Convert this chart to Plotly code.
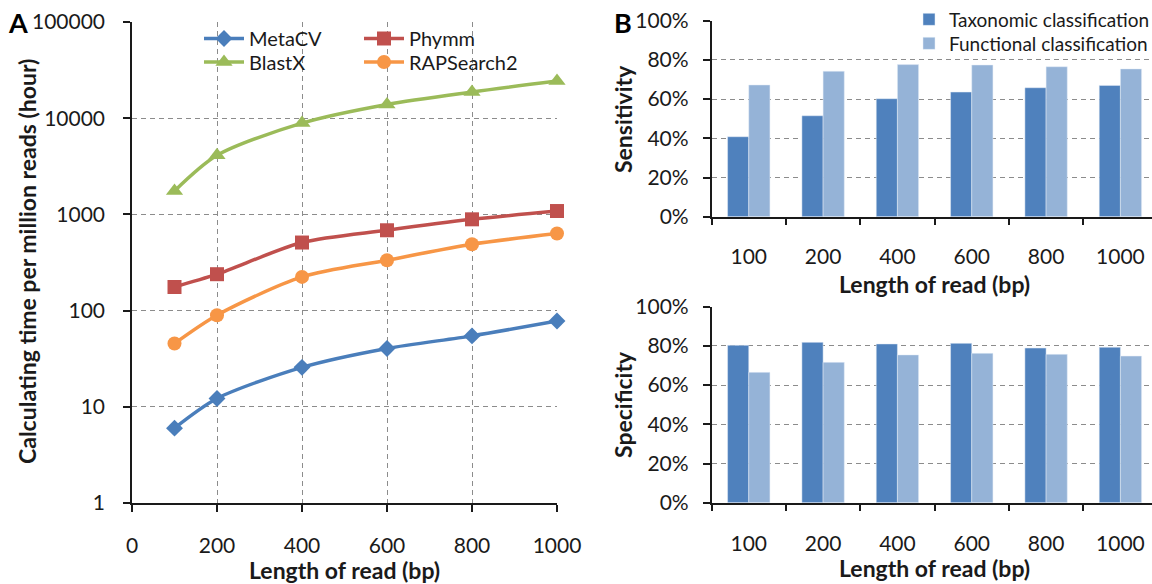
import plotly.graph_objects as go

# ---------------- data ----------------
read_len = [100, 200, 400, 600, 800, 1000]
metacv = [6, 12.2, 25.7, 40.4, 54.6, 78]
phymm = [176, 239, 510, 684, 889, 1084]
blastx = [1750, 4110, 8890, 13900, 18700, 24300]
rapsearch2 = [45.5, 89.6, 224, 334, 489, 633]

categories = ["100", "200", "400", "600", "800", "1000"]
sens_tax = [0.408, 0.515, 0.602, 0.636, 0.658, 0.670]
sens_fun = [0.672, 0.742, 0.776, 0.774, 0.765, 0.754]
spec_tax = [0.803, 0.818, 0.810, 0.813, 0.789, 0.793]
spec_fun = [0.665, 0.716, 0.754, 0.762, 0.757, 0.748]

log_ticks = [1, 10, 100, 1000, 10000, 100000]
log_labels = ["1", "10", "100", "1000", "10000", "100000"]
x_ticks = [0, 200, 400, 600, 800, 1000]
pct_ticks = [0, 0.2, 0.4, 0.6, 0.8, 1.0]

FONT = "Lato"
W, H = 1152, 584
C_BLUE, C_RED, C_GREEN, C_ORANGE = "#4A7EBB", "#C0504D", "#9BBB59", "#F79646"
C_DARK, C_LIGHT = "#4F81BD", "#95B3D7"
GRID = "#8c8c8c"
AX = "#1a1a1a"

fig = go.Figure()

def line(name, y, color, symbol, size, legend):
    fig.add_trace(go.Scatter(
        x=read_len, y=y, name=name, mode="lines+markers",
        line=dict(color=color, width=3.5, shape="spline", smoothing=0.8),
        marker=dict(symbol=symbol, size=size, color=color),
        cliponaxis=False, legend=legend, xaxis="x", yaxis="y"))

line("MetaCV", metacv, C_BLUE, "diamond", 13, "legend")
line("Phymm", phymm, C_RED, "square", 14, "legend3")
line("BlastX", blastx, C_GREEN, "triangle-up", 15, "legend2")
line("RAPSearch2", rapsearch2, C_ORANGE, "circle", 14, "legend4")

fig.add_trace(go.Bar(x=categories, y=sens_tax, name="Taxonomic classification",
                     marker_color=C_DARK, legend="legend5", xaxis="x2", yaxis="y2", offsetgroup="t"))
fig.add_trace(go.Bar(x=categories, y=sens_fun, name="Functional classification",
                     marker_color=C_LIGHT, legend="legend6", xaxis="x2", yaxis="y2", offsetgroup="f"))
fig.add_trace(go.Bar(x=categories, y=spec_tax, name="Taxonomic classification",
                     marker_color=C_DARK, showlegend=False, xaxis="x3", yaxis="y3", offsetgroup="t"))
fig.add_trace(go.Bar(x=categories, y=spec_fun, name="Functional classification",
                     marker_color=C_LIGHT, showlegend=False, xaxis="x3", yaxis="y3", offsetgroup="f"))

def px_x(p):
    return p / W

def px_y(p):
    return 1 - p / H

tickfont = dict(family=FONT, size=21, color=AX)
TITLE_SIZE = 23

common_grid = dict(showgrid=True, gridcolor=GRID, griddash="5px,4px", gridwidth=1,
                   showline=True, linecolor=AX, linewidth=1.5, ticks="outside",
                   tickcolor=AX, tickwidth=1.5, ticklen=7, zeroline=False,
                   tickfont=tickfont)

def title_ann(text, x, y, angle=0):
    return dict(text="<b>%s</b>" % text, x=px_x(x), y=px_y(y), xref="paper", yref="paper",
                xanchor="center", yanchor="middle", showarrow=False, textangle=angle,
                font=dict(family=FONT, size=TITLE_SIZE, color=AX))

def leg(x, y, size, iw=40):
    return dict(orientation="v", x=px_x(x), y=px_y(y), xanchor="left", yanchor="top",
                font=dict(family=FONT, size=size, color=AX),
                bgcolor="rgba(0,0,0,0)", itemwidth=iw)

fig.update_layout(
    width=W, height=H, margin=dict(l=0, r=0, t=0, b=0, autoexpand=False),
    paper_bgcolor="white", plot_bgcolor="white",
    font=dict(family=FONT, size=19, color=AX),
    barmode="group", bargap=0.43, bargroupgap=0,
    xaxis=dict(domain=[px_x(132), px_x(557)], range=[0, 1000], tickvals=x_ticks,
               anchor="y", ticklabelstandoff=16, **common_grid),
    yaxis=dict(domain=[px_y(503), px_y(22)], type="log", range=[0, 5],
               tickvals=log_ticks, ticktext=log_labels, anchor="x", ticklabelstandoff=14,
               **common_grid),
    xaxis2=dict(domain=[px_x(711.6), 1], range=[-0.5, 5.425], type="category",
                tickson="boundaries", anchor="y2", ticklabelstandoff=20,
                **{**common_grid, "showgrid": False}),
    yaxis2=dict(domain=[px_y(216.7), px_y(20.7)], range=[0, 1], tickvals=pct_ticks,
                tickformat=".0%", anchor="x2", ticklabelstandoff=10,
                **common_grid),
    xaxis3=dict(domain=[px_x(711.6), 1], range=[-0.5, 5.425], type="category",
                tickson="boundaries", anchor="y3", ticklabelstandoff=21,
                **{**common_grid, "showgrid": False}),
    yaxis3=dict(domain=[px_y(502.7), px_y(306.7)], range=[0, 1], tickvals=pct_ticks,
                tickformat=".0%", anchor="x3", ticklabelstandoff=10,
                **common_grid),
    legend=leg(199, 19, 20),
    legend2=leg(199, 42.5, 20),
    legend3=leg(359, 19, 20),
    legend4=leg(359, 42.5, 20),
    legend5=leg(909, 0.5, 19, 30),
    legend6=leg(909, 24.5, 19, 30),
    shapes=[
        dict(type="rect", xref="paper", yref="paper", layer="between",
             x0=px_x(922), x1=1, y0=px_y(31), y1=px_y(9),
             fillcolor="white", line=dict(width=0)),
    ],
    annotations=[
        dict(text="<b>A</b>", x=px_x(18), y=px_y(23), xref="paper", yref="paper",
             xanchor="center", yanchor="middle",
             showarrow=False, font=dict(family=FONT, size=27, color="black")),
        dict(text="<b>B</b>", x=px_x(623), y=px_y(23), xref="paper", yref="paper",
             xanchor="center", yanchor="middle",
             showarrow=False, font=dict(family=FONT, size=27, color="black")),
        title_ann("Calculating time per million reads (hour)", 27, 262, -90),
        title_ann("Length of read (bp)", 344, 570),
        title_ann("Length of read (bp)", 934, 284),
        title_ann("Length of read (bp)", 934, 568),
        title_ann("Sensitivity", 623, 119, -90),
        title_ann("Specificity", 623, 405, -90),
    ],
)

fig.write_html("out.html")
